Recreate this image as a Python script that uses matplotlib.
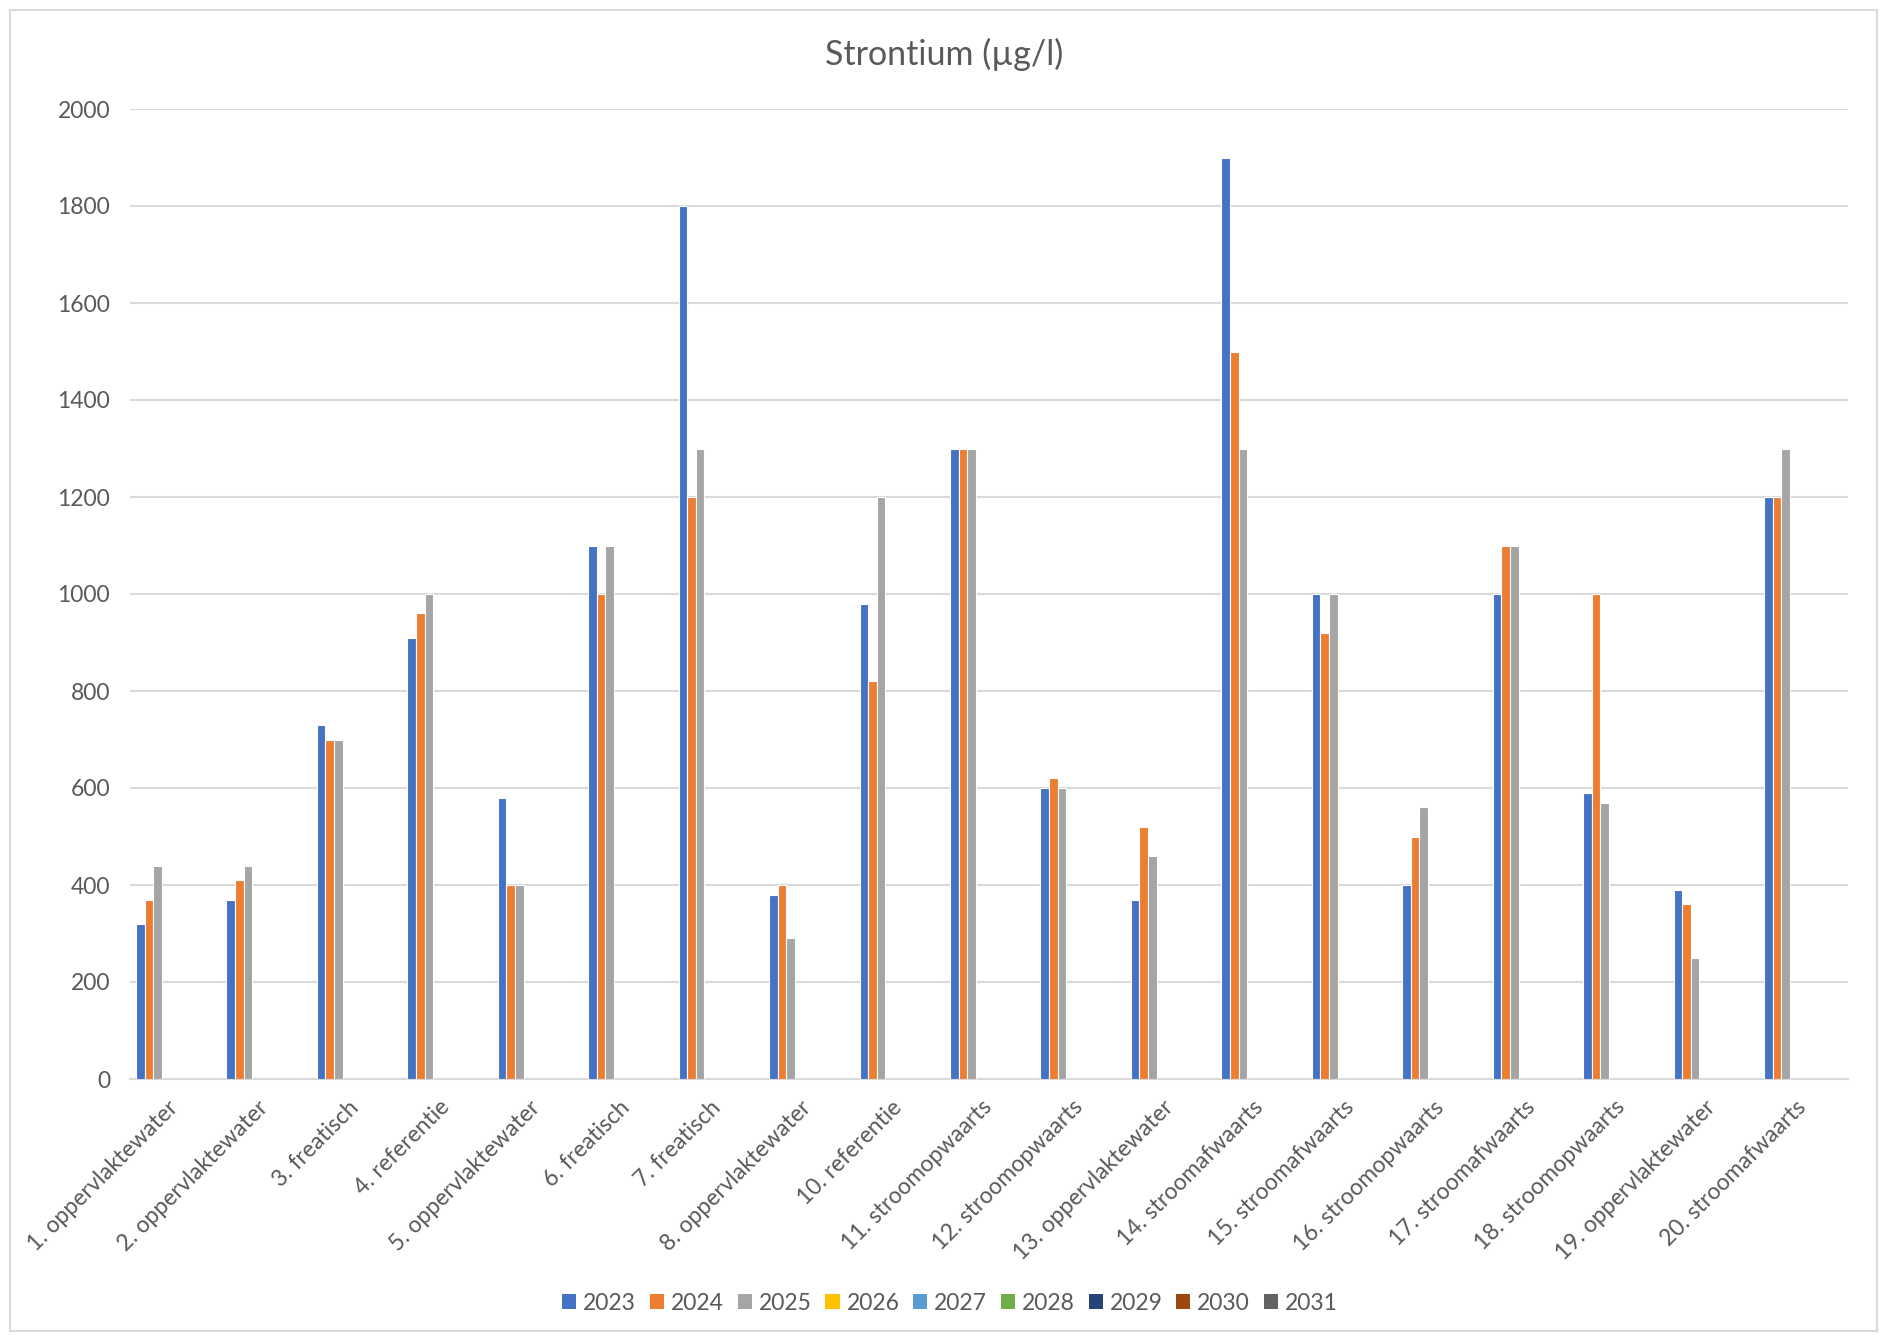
import numpy as np
import matplotlib.pyplot as plt
from matplotlib.patches import Rectangle, Patch

plt.rcParams['font.family'] = ['Lato', 'DejaVu Sans']

# Meetpunten (categorieen op de x-as)
stations = ['1. oppervlaktewater', '2. oppervlaktewater', '3. freatisch', '4. referentie',
            '5. oppervlaktewater', '6. freatisch', '7. freatisch', '8. oppervlaktewater',
            '10. referentie', '11. stroomopwaarts', '12. stroomopwaarts', '13. oppervlaktewater',
            '14. stroomafwaarts', '15. stroomafwaarts', '16. stroomopwaarts', '17. stroomafwaarts',
            '18. stroomopwaarts', '19. oppervlaktewater', '20. stroomafwaarts']

# Strontium (ug/l) per jaar; latere jaren nog zonder metingen
sr_2023 = [320, 370, 730, 910, 580, 1100, 1800, 380, 980, 1300, 600, 370, 1900, 1000, 400, 1000, 590, 390, 1200]
sr_2024 = [370, 410, 700, 960, 400, 1000, 1200, 400, 820, 1300, 620, 520, 1500, 920, 500, 1100, 1000, 360, 1200]
sr_2025 = [440, 440, 700, 1000, 400, 1100, 1300, 290, 1200, 1300, 600, 460, 1300, 1000, 560, 1100, 570, 250, 1300]
sr_2026 = []
sr_2027 = []
sr_2028 = []
sr_2029 = []
sr_2030 = []
sr_2031 = []

years = ['2023', '2024', '2025', '2026', '2027', '2028', '2029', '2030', '2031']
series = [sr_2023, sr_2024, sr_2025, sr_2026, sr_2027, sr_2028, sr_2029, sr_2030, sr_2031]
colors = ['#4472C4', '#ED7D31', '#A5A5A5', '#FFC000', '#5B9BD5', '#70AD47', '#264478', '#9E480E', '#636363']

text_color = '#595959'
grid_color = '#D9D9D9'
fs = 16.5

fig = plt.figure(figsize=(18.8, 13.36), dpi=100)
ax = fig.add_axes([129.5 / 1880, 1 - 1079 / 1336, (1848 - 129.5) / 1880, (1079 - 109) / 1336])

# Excel style clustered bars: 9 slots per category, gap width 150%
width = 1 / (len(years) + 1.5)
for i, (year, vals, col) in enumerate(zip(years, series, colors)):
    x = np.arange(len(vals)) + (i - (len(years) - 1) / 2) * width
    ax.bar(x, vals, width=width, color=col, edgecolor='white', linewidth=0.8, zorder=3)

ax.set_xlim(-0.5, len(stations) - 0.5)
ax.set_ylim(0, 2000)
ax.set_yticks(np.arange(0, 2001, 200))
ax.set_xticks(np.arange(len(stations)))
ax.set_xticklabels(stations, rotation=45, ha='right', va='center', rotation_mode='anchor')

ax.grid(axis='y', color=grid_color, linewidth=1.5, zorder=0)
for side in ['top', 'right', 'left']:
    ax.spines[side].set_visible(False)
ax.spines['bottom'].set_color(grid_color)
ax.spines['bottom'].set_linewidth(1.5)
ax.tick_params(axis='both', length=0, labelsize=fs, labelcolor=text_color)
ax.tick_params(axis='y', pad=14)
ax.tick_params(axis='x', pad=18)

fig.text(944 / 1880, 1 - 54 / 1336, 'Strontium (µg/l)', fontsize=24.5, color=text_color,
         ha='center', va='center')

handles = [Patch(facecolor=c, edgecolor='none') for c in colors]
fig.legend(handles, years, loc='center', bbox_to_anchor=(950 / 1880, 1 - 1303 / 1336), ncol=len(years),
           frameon=False, fontsize=fs, labelcolor=text_color,
           handlelength=0.62, handleheight=0.62, handletextpad=0.3, columnspacing=0.6)

# chart border
fig.patches.append(Rectangle((10 / 1880, 5 / 1336), 1867 / 1880, 1321 / 1336,
                             transform=fig.transFigure, fill=False, edgecolor=grid_color, linewidth=1.5))

fig.savefig('out.png', dpi=100)
